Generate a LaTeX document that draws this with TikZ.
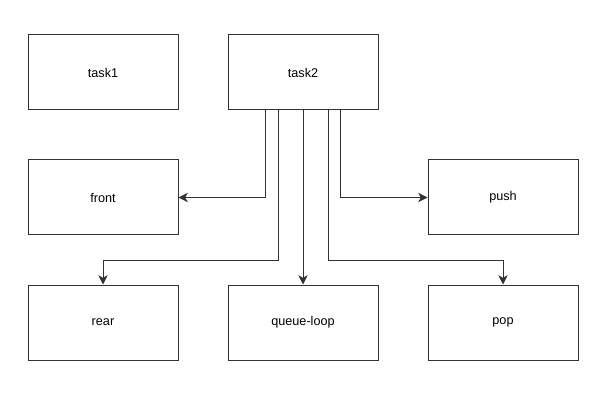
\documentclass[tikz,border=0pt]{standalone}
\usepackage{fontspec}
\setmainfont{Liberation Sans}
\usetikzlibrary{arrows.meta,calc}
\begin{document}
\begin{tikzpicture}[x=0.75pt,y=-0.75pt,
  box/.style={draw=black!80, line width=0.75pt, minimum width=112.5pt, minimum height=56.25pt, inner sep=0pt, font=\fontsize{9.5}{11}\selectfont},
  conn/.style={draw=black!80, line width=0.75pt, -{Stealth[length=7pt,width=7pt,inset=2pt]}}]
\useasboundingbox[fill=white] (0,0) rectangle (607,417);
\node[box] (task1) at (103,72.5) {task1};
\node[box] (task2) at (303,72.5) {task2};
\node[box] (front) at (103,197.5) {front};
\node[box] (push) at (503,197.5) {push};
\node[box] (rear) at (103,322.5) {rear};
\node[box] (queue) at (303,322.5) {queue-loop};
\node[box] (pop) at (503,322.5) {pop};
\draw[conn] ($(task2.south)+(-37.5,0)$) |- (front.east);
\draw[conn] ($(task2.south)+(-25,0)$) -- ++(0,150) -| (rear.north);
\draw[conn] (task2.south) -- (queue.north);
\draw[conn] ($(task2.south)+(25,0)$) -- ++(0,150) -| (pop.north);
\draw[conn] ($(task2.south)+(37.5,0)$) |- (push.west);
\end{tikzpicture}
\end{document}
